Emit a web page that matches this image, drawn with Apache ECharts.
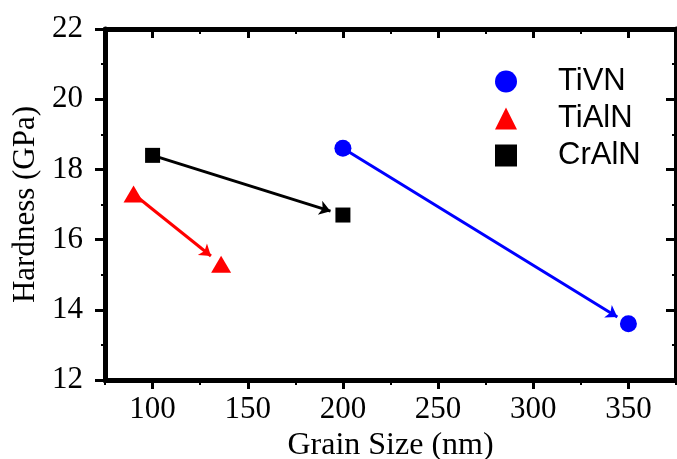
<!DOCTYPE html>
<html>
<head>
<meta charset="utf-8">
<script src="https://cdn.jsdelivr.net/npm/echarts@6/dist/echarts.min.js"></script>
<style>
  html, body { margin: 0; padding: 0; background: #fff; }
  #main { width: 677px; height: 459px; }
</style>
</head>
<body>
<div id="main"></div>
<script>
// grain size (nm) / hardness (GPa), first point -> second point
var tivnSize = [200, 350];
var tivnHard = [18.6, 13.6];
var tialnSize = [90, 136];
var tialnHard = [17.3, 15.3];
var cralnSize = [100, 200];
var cralnHard = [18.4, 16.7];

var names = ['TiVN', 'TiAlN', 'CrAlN'];
var colors = ['#0000ff', '#ff0000', '#000000'];

var xMajor = [100, 150, 200, 250, 300, 350];
var xMinor = [75, 125, 175, 225, 275, 325, 375];

function pairs(xs, ys) {
    var out = [];
    for (var i = 0; i < xs.length; i++) out.push([xs[i], ys[i]]);
    return out;
}

var serif = '"Liberation Serif", "Times New Roman", serif';
var sans = '"Liberation Sans", Arial, sans-serif';

function line() {
    return { show: true, lineStyle: { color: '#000', width: 5 } };
}

var chart = echarts.init(document.getElementById('main'));
var option = {
    animation: false,
    backgroundColor: '#fff',
    grid: { left: 105, right: 1, top: 29, bottom: 79, outerBoundsMode: 'none' },
    legend: {
        orient: 'vertical',
        left: 490,
        top: 61,
        itemWidth: 22,
        itemHeight: 22,
        itemGap: 6,
        data: names,
        textStyle: { fontFamily: sans, fontSize: 31, color: '#000', padding: [0, 0, 0, 36] }
    },
    xAxis: [{
        type: 'value', position: 'bottom', min: 75, max: 375,
        name: 'Grain Size (nm)', nameLocation: 'middle', nameGap: 40,
        nameTextStyle: { fontFamily: serif, fontSize: 32, color: '#000' },
        axisLine: line(),
        axisTick: { show: true, length: 9, lineStyle: { width: 3, color: '#000' }, customValues: xMajor },
        axisLabel: { fontFamily: serif, fontSize: 31, color: '#000', margin: 14, customValues: xMajor },
        splitLine: { show: false }
    }, {
        // minor ticks underneath
        type: 'value', position: 'bottom', min: 75, max: 375,
        axisLine: { show: false },
        axisTick: { show: true, length: 5, lineStyle: { width: 2, color: '#000' }, customValues: xMinor },
        axisLabel: { show: false },
        splitLine: { show: false }
    }, {
        type: 'value', position: 'top', min: 75, max: 375,
        axisLine: line(),
        axisTick: { show: true, inside: true, length: 9, lineStyle: { width: 3, color: '#000' }, customValues: xMajor },
        axisLabel: { show: false },
        splitLine: { show: false }
    }, {
        type: 'value', position: 'top', min: 75, max: 375,
        axisLine: { show: false },
        axisTick: { show: true, inside: true, length: 5, lineStyle: { width: 2, color: '#000' }, customValues: xMinor },
        axisLabel: { show: false },
        splitLine: { show: false }
    }],
    yAxis: [{
        type: 'value', position: 'left', min: 12, max: 22, interval: 2,
        name: 'Hardness (GPa)', nameLocation: 'middle', nameGap: 56,
        nameTextStyle: { fontFamily: serif, fontSize: 31, color: '#000' },
        axisLine: line(),
        axisTick: { show: true, length: 10, lineStyle: { width: 3, color: '#000' } },
        minorTick: { show: true, splitNumber: 2, length: 4, lineStyle: { width: 2, color: '#000' } },
        axisLabel: { fontFamily: serif, fontSize: 31, color: '#000', margin: 22 },
        splitLine: { show: false }
    }, {
        type: 'value', position: 'right', min: 12, max: 22, interval: 2,
        axisLine: line(),
        axisTick: { show: true, inside: true, length: 10, lineStyle: { width: 3, color: '#000' } },
        minorTick: { show: true, splitNumber: 2, length: 4, lineStyle: { width: 2, color: '#000' } },
        axisLabel: { show: false },
        splitLine: { show: false }
    }],
    series: [{
        name: 'TiVN', type: 'scatter', symbol: 'circle', symbolSize: 17, z: 5,
        itemStyle: { color: colors[0], opacity: 1 },
        data: pairs(tivnSize, tivnHard)
    }, {
        name: 'TiAlN', type: 'scatter', symbol: 'triangle', symbolSize: [20, 17], z: 5,
        itemStyle: { color: colors[1], opacity: 1 },
        data: pairs(tialnSize, tialnHard)
    }, {
        name: 'CrAlN', type: 'scatter', symbol: 'rect', symbolSize: 15, z: 5,
        itemStyle: { color: colors[2], opacity: 1 },
        data: pairs(cralnSize, cralnHard)
    }]
};
chart.setOption(option);

// arrow from first to second point, stopping short of the second marker
function arrow(xs, ys, color) {
    var p0 = chart.convertToPixel({ seriesIndex: 0 }, [xs[0], ys[0]]);
    var p1 = chart.convertToPixel({ seriesIndex: 0 }, [xs[1], ys[1]]);
    var dx = p1[0] - p0[0], dy = p1[1] - p0[1];
    var len = Math.sqrt(dx * dx + dy * dy);
    var k = (len - 13) / len;
    var end = chart.convertFromPixel({ seriesIndex: 0 }, [p0[0] + dx * k, p0[1] + dy * k]);
    return { coords: [[xs[0], ys[0]], end], lineStyle: { color: color } };
}

chart.setOption({
    series: [{}, {}, {}, {
        name: 'arrows', type: 'lines', coordinateSystem: 'cartesian2d',
        xAxisIndex: 0, yAxisIndex: 0, silent: true, z: 2,
        symbol: ['none', 'arrow'], symbolSize: [0, 11],
        lineStyle: { width: 3, opacity: 1 },
        data: [
            arrow(tivnSize, tivnHard, colors[0]),
            arrow(tialnSize, tialnHard, colors[1]),
            arrow(cralnSize, cralnHard, colors[2])
        ]
    }]
});
</script>
</body>
</html>
